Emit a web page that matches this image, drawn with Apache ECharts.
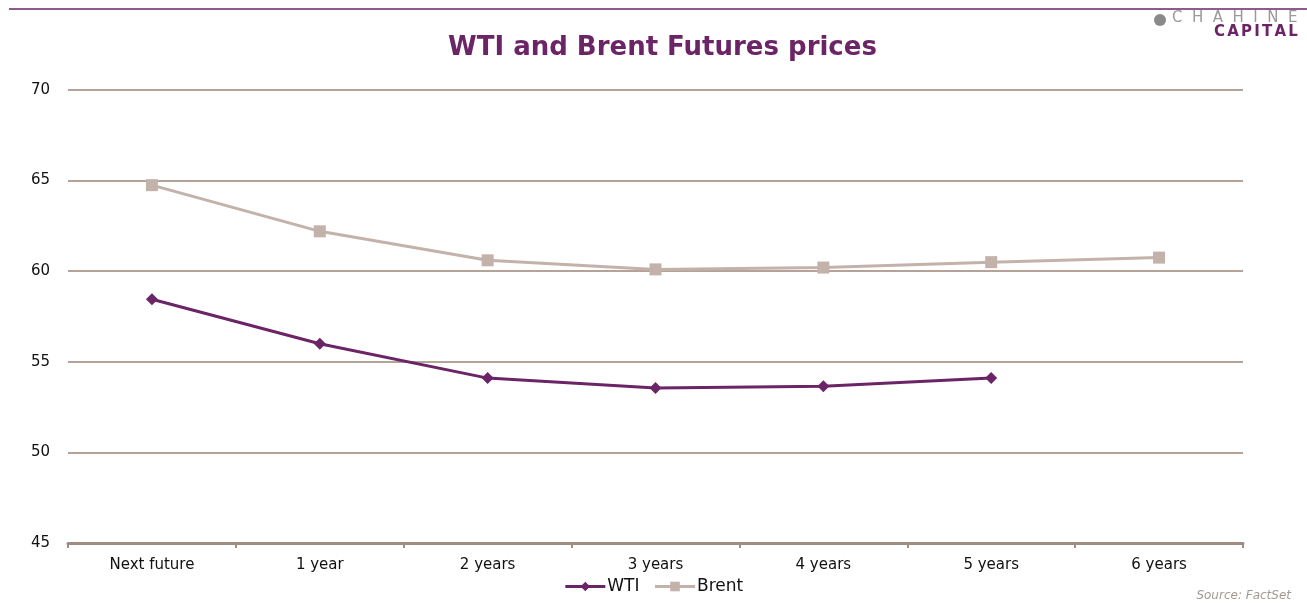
<!DOCTYPE html>
<html><head><meta charset="utf-8">
<script src="https://cdn.jsdelivr.net/npm/echarts@6/dist/echarts.min.js"></script>
<style>html,body{margin:0;padding:0;background:#fff}#c{width:1307px;height:603px}</style>
</head><body><div id="c"></div>
<script>
const categories = ['Next future','1 year','2 years','3 years','4 years','5 years','6 years'];
const wti = [58.45, 56.0, 54.1, 53.55, 53.65, 54.1, null];
const brent = [64.75, 62.2, 60.6, 60.1, 60.2, 60.5, 60.75];
const yTicks = {min:45, max:70, interval:5};

const chart = echarts.init(document.getElementById('c'));
const FONT = '"DejaVu Sans", Verdana, sans-serif';
const cv = document.createElement('canvas').getContext('2d');
function spaced(word, x0, top, font, fill, gap){
  cv.font = font; let x = x0; const out = [];
  for (const ch of word){ out.push({type:'text', left:x, top:top, style:{text:ch, fill:fill, font:font}}); x += cv.measureText(ch).width + gap; }
  return out;
}
const logo = [
  ...spaced('CHAHINE', 1172, 11, '15px "DejaVu Sans"', '#9a9a9a', 9.5),
  ...spaced('CAPITAL', 1214, 25, 'bold 15px "DejaVu Sans"', '#6b2466', 2.2)
];
chart.setOption({
  animation:false,
  title:{text:'WTI and Brent Futures prices', left:443, top:30,
    textStyle:{color:'#6b2466', fontSize:26, fontWeight:'bold', fontFamily:FONT}},
  legend:{bottom:3, left:'center', itemWidth:40, itemHeight:12, itemGap:14,
    lineStyle:{width:3},
    textStyle:{fontSize:17, color:'#111', fontFamily:FONT, padding:[0,0,0,-3]},
    data:['WTI','Brent']},
  grid:{left:68, right:64, top:90, bottom:60},
  xAxis:{type:'category', data:categories, boundaryGap:true,
    axisLine:{lineStyle:{color:'#a08c80', width:3}},
    axisTick:{show:true, length:5, lineStyle:{color:'#a08c80', width:2}},
    axisLabel:{color:'#111', fontSize:15, margin:15, fontFamily:FONT}},
  yAxis:{type:'value', min:yTicks.min, max:yTicks.max, interval:yTicks.interval,
    axisLine:{show:false}, axisTick:{show:false},
    axisLabel:{color:'#111', fontSize:15, margin:18, fontFamily:FONT},
    splitLine:{lineStyle:{color:'#9c8578', width:1.5}}},
  series:[
    {name:'WTI', type:'line', data:wti, symbol:'diamond', symbolSize:12,
      lineStyle:{color:'#6b2466', width:3}, itemStyle:{color:'#6b2466'}},
    {name:'Brent', type:'line', data:brent, symbol:'rect', symbolSize:12,
      lineStyle:{color:'#c2b2aa', width:3}, itemStyle:{color:'#c2b2aa'}}
  ],
  graphic:[
    {type:'line', shape:{x1:9, y1:9, x2:1307, y2:9}, style:{stroke:'#6b2466', lineWidth:1.5}},
    {type:'circle', shape:{cx:1160, cy:20, r:6}, style:{fill:'#8a8a8a'}},
    ...logo,
    {type:'text', right:16, top:590, style:{text:'Source: FactSet', fill:'#a39890', font:'italic 12px "DejaVu Sans"'}}
  ]
});
</script></body></html>
